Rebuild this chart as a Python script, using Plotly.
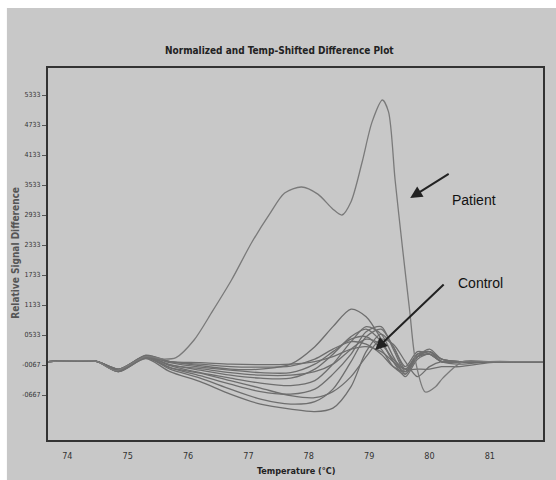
import plotly.graph_objects as go

# ---------------- data ----------------
x_tick_vals = [74, 75, 76, 77, 78, 79, 80, 81]
y_tick_vals = [5333, 4733, 4133, 3533, 2933, 2333, 1733, 1133, 533, -67, -667]
y_tick_text = ["5333", "4733", "4133", "3533", "2933", "2333", "1733", "1133", "0533", "-0067", "-0667"]

patient_x = [73.68, 74.2, 74.5, 74.8, 75.3, 75.6, 75.8, 76.1, 76.4, 76.72, 77.05, 77.35, 77.6, 77.88,
             78.15, 78.4, 78.55, 78.7, 78.88, 79.05, 79.22, 79.32, 79.43, 79.55, 79.67, 79.77,
             79.93, 80.1, 80.22, 80.55, 81.0, 81.88]
patient_y = [0, 20, 0, -180, 100, 50, 80, 433, 1000, 1633, 2373, 2950, 3373, 3493,
             3350, 3050, 2933, 3200, 3973, 4800, 5233, 5000, 3633, 2300, 1033, 0,
             -607, -500, -330, 0, 0, 0]

control_x = [73.68, 74.2, 74.5, 74.85, 75.3, 75.7, 76.2, 76.7, 77.2, 77.7, 78.1, 78.4, 78.7,
             78.95, 79.2, 79.4, 79.6, 79.8, 80.0, 80.2, 80.5, 81.0, 81.5, 81.88]
control_1 = [0, 20, 0, -150, 120, 0, -80, -150, -150, -50, 300, 700, 1050, 900, 450, 0, -200, 100, 200, 50, 0, 0, 0, 0]
control_2 = [0, 20, 0, -200, 60, -200, -400, -650, -850, -950, -1000, -930, -500, 200, 550, 300, -150, 150, 200, 50, 0, 0, 0, 0]
control_3 = [0, 20, 0, -180, 80, -150, -330, -550, -750, -850, -800, -550, 0, 500, 650, 300, -100, 200, 150, 0, 0, 0, 0, 0]
control_4 = [0, 20, 0, -200, 90, -120, -280, -450, -600, -650, -550, -250, 150, 600, 700, 250, -200, 100, 150, 0, 0, 0, 0, 0]
control_5 = [0, 20, 0, -160, 110, -80, -220, -330, -430, -480, -380, -50, 400, 700, 550, 100, -250, 100, 200, 0, 0, 0, 0, 0]
control_6 = [0, 20, 0, -180, 90, -60, -170, -270, -330, -330, -150, 150, 500, 650, 400, 0, -300, 50, 150, 0, -50, 0, 0, 0]
control_7 = [0, 20, 0, -150, 100, -20, -110, -170, -220, -220, -50, 200, 450, 500, 250, -100, -250, 100, 250, 50, 0, 0, 0, 0]
control_8 = [0, 20, 0, -170, 130, 0, -50, -100, -110, -90, 50, 250, 400, 350, 150, -100, -200, 150, 200, 0, 0, 0, 0, 0]
control_9 = [0, 20, 0, -150, 110, 0, -20, -50, -60, -50, 0, 100, 250, 300, 200, 0, -150, 100, 150, 0, 0, 0, 0, 0]
control_10 = [0, 20, 0, -200, 70, -120, -230, -380, -530, -680, -720, -600, -300, 100, 450, 350, 0, -300, -100, 0, 0, 0, 0, 0]
control_11 = [0, 20, 0, -170, 100, -70, -140, -220, -270, -270, -200, -50, 250, 450, 350, 50, -150, -150, -150, -100, -100, -20, 0, 0]
controls = [control_1, control_2, control_3, control_4, control_5, control_6,
            control_7, control_8, control_9, control_10, control_11]

title_text = "Normalized and Temp-Shifted Difference Plot"
x_title = "Temperature (°C)"
y_title = "Relative Signal Difference"

# ---------------- figure ----------------
narrow = "Liberation Sans Narrow, DejaVu Sans Condensed, Arial Narrow, sans-serif"
fig = go.Figure()
for c in controls:
    fig.add_trace(go.Scatter(x=control_x, y=c, mode="lines",
                             line=dict(color="#6e6e6e", width=1.3, shape="spline", smoothing=0.8),
                             showlegend=False, hoverinfo="skip"))
fig.add_trace(go.Scatter(x=patient_x, y=patient_y, mode="lines",
                         line=dict(color="#7a7a7a", width=1.3, shape="spline", smoothing=0.8),
                         showlegend=False, hoverinfo="skip"))

# outer gray panel with white top/left margin
fig.add_shape(type="rect", xref="paper", yref="paper", x0=-0.083, x1=1.03, y0=-0.11, y1=1.161,
              fillcolor="#c8c8c8", line=dict(width=0), layer="below")

fig.update_layout(
    width=556, height=480,
    margin=dict(l=48, r=13, t=68, b=40),
    paper_bgcolor="white", plot_bgcolor="white",
    showlegend=False,
    xaxis=dict(range=[73.68, 81.88], tickvals=x_tick_vals, showgrid=False, zeroline=False,
               ticks="outside", ticklen=6, tickcolor="#c8c8c8",
               tickfont=dict(family=narrow, size=9, color="#333"),
               showline=True, linecolor="#333", linewidth=2, mirror=True),
    yaxis=dict(range=[-1567, 5873], tickvals=y_tick_vals, ticktext=y_tick_text, showgrid=False,
               zeroline=False, ticks="outside", ticklen=4, tickcolor="#555",
               tickfont=dict(family=narrow, size=7, color="#333"),
               showline=True, linecolor="#333", linewidth=2, mirror=True),
    annotations=[
        dict(text="<b>" + title_text + "</b>", xref="paper", yref="paper", x=0.467, y=1.048,
             xanchor="center", yanchor="middle",
             showarrow=False, font=dict(family=narrow, size=10, color="#222")),
        dict(text="<b>" + x_title + "</b>", xref="paper", yref="paper", x=0.5, y=-0.082,
             xanchor="center", yanchor="middle",
             showarrow=False, font=dict(family=narrow, size=9, color="#222")),
        dict(text="<b>" + y_title + "</b>", xref="paper", yref="paper", x=-0.065, y=0.503,
             xanchor="center", yanchor="middle",
             textangle=-90, showarrow=False, font=dict(family=narrow, size=10, color="#555")),
        dict(text="Patient", x=80.74, y=3240, showarrow=False, xanchor="center", yanchor="middle",
             font=dict(family="Liberation Sans, Arial, sans-serif", size=14, color="#111")),
        dict(text="Control", x=80.84, y=1573, showarrow=False, xanchor="center", yanchor="middle",
             font=dict(family="Liberation Sans, Arial, sans-serif", size=14, color="#111")),
        dict(text="", x=79.68, y=3273, ax=40, ay=-25, showarrow=True, arrowhead=2,
             arrowsize=1.2, arrowwidth=2, arrowcolor="#222"),
        dict(text="", x=79.1, y=233, ax=70, ay=-67, showarrow=True, arrowhead=2,
             arrowsize=1.2, arrowwidth=2, arrowcolor="#222"),
    ],
)

fig.write_html("out.html")
